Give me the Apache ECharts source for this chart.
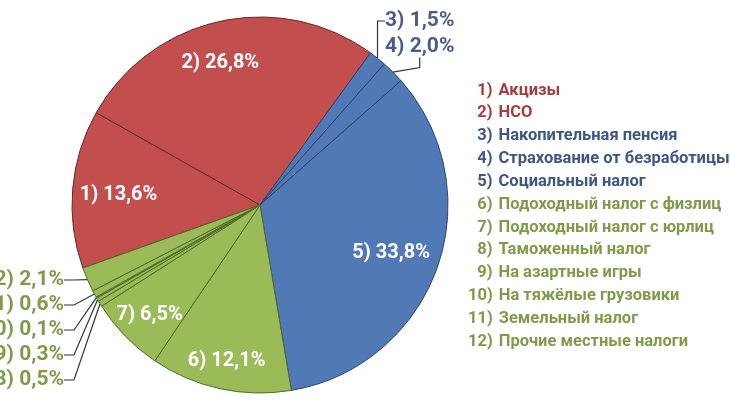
<!DOCTYPE html>
<html>
<head>
<meta charset="utf-8">
<script src="https://cdn.jsdelivr.net/npm/echarts@6/dist/echarts.min.js"></script>
<style>
html,body{margin:0;padding:0;background:#fff;}
#c{width:730px;height:400px;}
</style>
</head>
<body>
<div id="c"></div>
<script>
// ---- data ----
const categories = ['Акцизы','НСО','Накопительная пенсия','Страхование от безработицы','Социальный налог','Подоходный налог с физлиц','Подоходный налог с юрлиц','Таможенный налог','На азартные игры','На тяжёлые грузовики','Земельный налог','Прочие местные налоги'];
const values = [13.6, 26.8, 1.5, 2.0, 33.8, 12.1, 6.5, 0.5, 0.3, 0.1, 0.6, 2.1];
const groups = [0, 0, 1, 1, 1, 2, 2, 2, 2, 2, 2, 2];

// ---- styles ----
const fillColors = ['#c24f4e', '#5079b5', '#9bbb59'];
const borderColors = ['#6a2a2a', '#2b4570', '#4f6a25'];
const legendColors = ['#a63b3e', '#3e5683', '#7f9b49'];
const outLabelColors = ['#a63b3e', '#4a5d8a', '#7f9b49'];
const FONT = 'Roboto';

const CX = 260, CY = 205, R = 188, START = 199.6;
const insideK = {0: 0.755, 1: 0.79, 4: 0.74, 5: 0.84, 6: 0.82};
const insideNudge = {0: [0, 2], 1: [-8, 3], 4: [0, 2], 5: [0, 2], 6: [0, 2]};
const outsidePos = {
  2: {x: 385, y: 21, align: 'left'},
  3: {x: 385, y: 47, align: 'left'},
  11: {x: 64, y: 280, align: 'right'},
  10: {x: 64, y: 305, align: 'right'},
  9: {x: 64, y: 330, align: 'right'},
  8: {x: 64, y: 355, align: 'right'},
  7: {x: 64, y: 380, align: 'right'}
};

const total = values.reduce((a, b) => a + b, 0);
function midAngle(i) {
  let acc = 0;
  for (let j = 0; j < i; j++) acc += values[j];
  acc += values[i] / 2;
  return (90 - START) + acc / total * 360;
}
function fmt(v) { return v.toFixed(1).replace('.', ','); }

const data = values.map((v, i) => {
  const g = groups[i];
  const inside = insideK[i] !== undefined;
  return {
    name: categories[i],
    value: v,
    itemStyle: {color: fillColors[g], borderColor: borderColors[g], borderWidth: 1},
    label: inside ? {
      position: 'inside', color: '#fff', fontSize: 20, fontWeight: 'bold', fontFamily: FONT
    } : {
      position: 'outside', color: outLabelColors[g], fontSize: 21, fontWeight: 'bold', fontFamily: FONT
    },
    labelLine: {show: !inside, length: 10, length2: 10, lineStyle: {color: '#333', width: 1.2}}
  };
});

const rich = {};
[0, 1, 2].forEach(g => {
  rich['n' + g] = {color: legendColors[g], fontSize: 16.5, fontWeight: 'bold', fontFamily: FONT, lineHeight: 22.84};
  rich['t' + g] = {color: legendColors[g], fontSize: 16.5, fontWeight: 'bold', fontFamily: FONT, padding: [0, 0, 0, 6], lineHeight: 22.84};
});

const chart = echarts.init(document.getElementById('c'), null, {renderer: 'canvas'});
chart.setOption({
  animation: false,
  backgroundColor: '#fff',
  legend: {
    orient: 'vertical',
    left: 453,
    top: 79,
    icon: 'none',
    itemWidth: 10,
    itemHeight: 10,
    itemGap: 0,
    padding: 0,
    selectedMode: false,
    data: categories,
    formatter: function (name) {
      const i = categories.indexOf(name);
      const g = groups[i];
      const num = (i + 1 < 10 ? '\u2007' : '') + (i + 1) + ')';
      return '{n' + g + '|' + num + '}{t' + g + '|' + name + '}';
    },
    textStyle: {rich: rich, lineHeight: 22.84}
  },
  series: [{
    type: 'pie',
    center: [CX, CY],
    radius: R,
    startAngle: START,
    clockwise: true,
    avoidLabelOverlap: false,
    data: data,
    label: {
      formatter: function (p) { return (p.dataIndex + 1) + ') ' + fmt(p.value) + '%'; }
    },
    emphasis: {disabled: true},
    labelLayout: function (p) {
      const i = p.dataIndex;
      if (insideK[i] !== undefined) {
        const a = midAngle(i) * Math.PI / 180;
        const r = R * insideK[i];
        const n = insideNudge[i];
        return {x: CX + r * Math.sin(a) + n[0], y: CY - r * Math.cos(a) + n[1], align: 'center', verticalAlign: 'middle'};
      }
      const o = outsidePos[i];
      return {x: o.x, y: o.y, align: o.align, verticalAlign: 'middle'};
    }
  }]
});
</script>
</body>
</html>
